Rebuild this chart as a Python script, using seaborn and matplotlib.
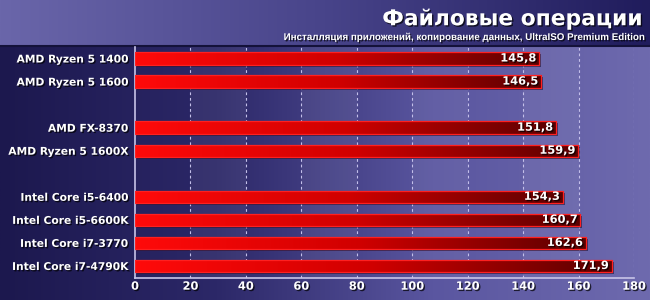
import numpy as np
import pandas as pd
import matplotlib
matplotlib.use("Agg")
import matplotlib.pyplot as plt
import matplotlib.patheffects as pe
import matplotlib.transforms as mtransforms
from matplotlib.colors import LinearSegmentedColormap
import seaborn as sns

# ---- data ----
cpus = ["AMD Ryzen 5 1400", "AMD Ryzen 5 1600",
        "AMD FX-8370", "AMD Ryzen 5 1600X",
        "Intel Core i5-6400", "Intel Core i5-6600K", "Intel Core i7-3770", "Intel Core i7-4790K"]
scores = [145.8, 146.5, 151.8, 159.9, 154.3, 160.7, 162.6, 171.9]
groups = [0, 0, 1, 1, 2, 2, 2, 2]
title = "Файловые операции"
subtitle = "Инсталляция приложений, копирование данных, UltraISO Premium Edition"
xticks = [0, 20, 40, 60, 80, 100, 120, 140, 160, 180]

# build order with spacer slots between groups
order = []
for i, (c, g) in enumerate(zip(cpus, groups)):
    if i > 0 and g != groups[i - 1]:
        order.append(" " * g)
    order.append(c)
df = pd.DataFrame({"cpu": cpus, "score": scores})

sns.set_theme(style="white")
plt.rcParams["font.family"] = ["DejaVu Sans"]

W, H = 650, 300
fig = plt.figure(figsize=(W / 100, H / 100), dpi=100)

# ---- figure background gradients ----
bg = fig.add_axes([0, 0, 1, 1], zorder=-10)
bg.set_axis_off()
bg.set_xlim(0, W)
bg.set_ylim(H, 0)
main_cmap = LinearSegmentedColormap.from_list("m", ["#1c184e", "#2c2868", "#5a56a0", "#6e6aae"])
grad = np.linspace(0, 1, 256).reshape(1, -1)
bg.imshow(grad, cmap=main_cmap, extent=[0, W, H, 45], aspect="auto")
head_cmap = LinearSegmentedColormap.from_list("h", ["#6a66aa", "#48448a", "#201c5c"])
bg.imshow(grad, cmap=head_cmap, extent=[0, W, 45, 0], aspect="auto")
bg.axhline(45.5, color="#14123a", lw=1.5)

txt_fx = [pe.withSimplePatchShadow(offset=(1, -1), shadow_rgbFace="#000000", alpha=0.7)]
bg.text(642, 19, title, color="white", fontsize=15.7, fontweight="bold",
        ha="right", va="center", path_effects=txt_fx)
bg.text(642, 37, subtitle, color="white", fontsize=7.05, fontweight="bold",
        family=["Liberation Sans", "DejaVu Sans"],
        ha="right", va="center", path_effects=txt_fx)

# ---- main axes ----
ax = fig.add_axes([135 / W, 22.5 / H, 499 / W, 230.5 / H])
ax.patch.set_alpha(0)
sns.barplot(data=df, x="score", y="cpu", order=order, orient="h",
            color="#e00000", width=0.54, ax=ax, zorder=3)
bars = [p for p in ax.patches if np.isfinite(p.get_width()) and p.get_width() > 0]
ax.set_xlim(0, 180)
ax.set_ylim(len(order) - 0.5, -0.5)

# bar gradients
bar_cmap = LinearSegmentedColormap.from_list("b", ["#ff0a0a", "#d00000", "#5a0000"])
for p in bars:
    x0, y0 = p.get_x(), p.get_y()
    w, h = p.get_width(), p.get_height()
    p.set_facecolor("none")
    p.set_edgecolor("#ff2020")
    p.set_linewidth(0.9)
    p.set_zorder(5)
    shadow = plt.Rectangle((x0, y0), w, h, facecolor="#101030", alpha=0.55, lw=0, zorder=2)
    shadow.set_transform(ax.transData + mtransforms.ScaledTranslation(2 / 100, -2 / 100, fig.dpi_scale_trans))
    ax.add_patch(shadow)
    im = ax.imshow(grad, cmap=bar_cmap, extent=[x0, x0 + w, y0 + h, y0],
                   aspect="auto", zorder=4)
    im.set_clip_path(p)

# alternating bands + grid
for k in range(20, 180, 40):
    ax.axvspan(k, k + 20, color="white", alpha=0.06, lw=0, zorder=0)
for k in xticks[1:]:
    ax.axvline(k, color="#c4c0ea", lw=0.8, ls=(0, (2.5, 2.5)), zorder=1)
ax.set_xlim(0, 180)
ax.set_ylim(len(order) - 0.5, -0.5)

# value labels
for c, v in zip(cpus, scores):
    yi = order.index(c)
    ax.text(v - 1.0, yi, f"{v:.1f}".replace(".", ","), color="white", fontsize=8.2,
            fontweight="bold", ha="right", va="center", zorder=6, path_effects=txt_fx)

# axes styling
for s in ["top", "right"]:
    ax.spines[s].set_visible(False)
ax.spines["left"].set_color("#c8c4e8")
ax.spines["bottom"].set_color("#c8c4e8")
ax.spines["left"].set_linewidth(1.2)
ax.spines["bottom"].set_linewidth(1.2)
ax.set_xticks(xticks)
ax.set_xticks(np.arange(0, 181, 4), minor=True)
ax.tick_params(axis="x", which="major", length=4, color="#c8c4e8", direction="in",
               labelcolor="white", labelsize=8.2, pad=3)
ax.tick_params(axis="x", which="minor", length=2, color="#c8c4e8", direction="in")
ax.tick_params(axis="y", length=0, labelcolor="white", labelsize=7.7, pad=5)
for t in ax.get_xticklabels() + ax.get_yticklabels():
    t.set_fontweight("bold")
    t.set_path_effects(txt_fx)
ax.set_xlabel("")
ax.set_ylabel("")

fig.savefig("out.png", dpi=100)
